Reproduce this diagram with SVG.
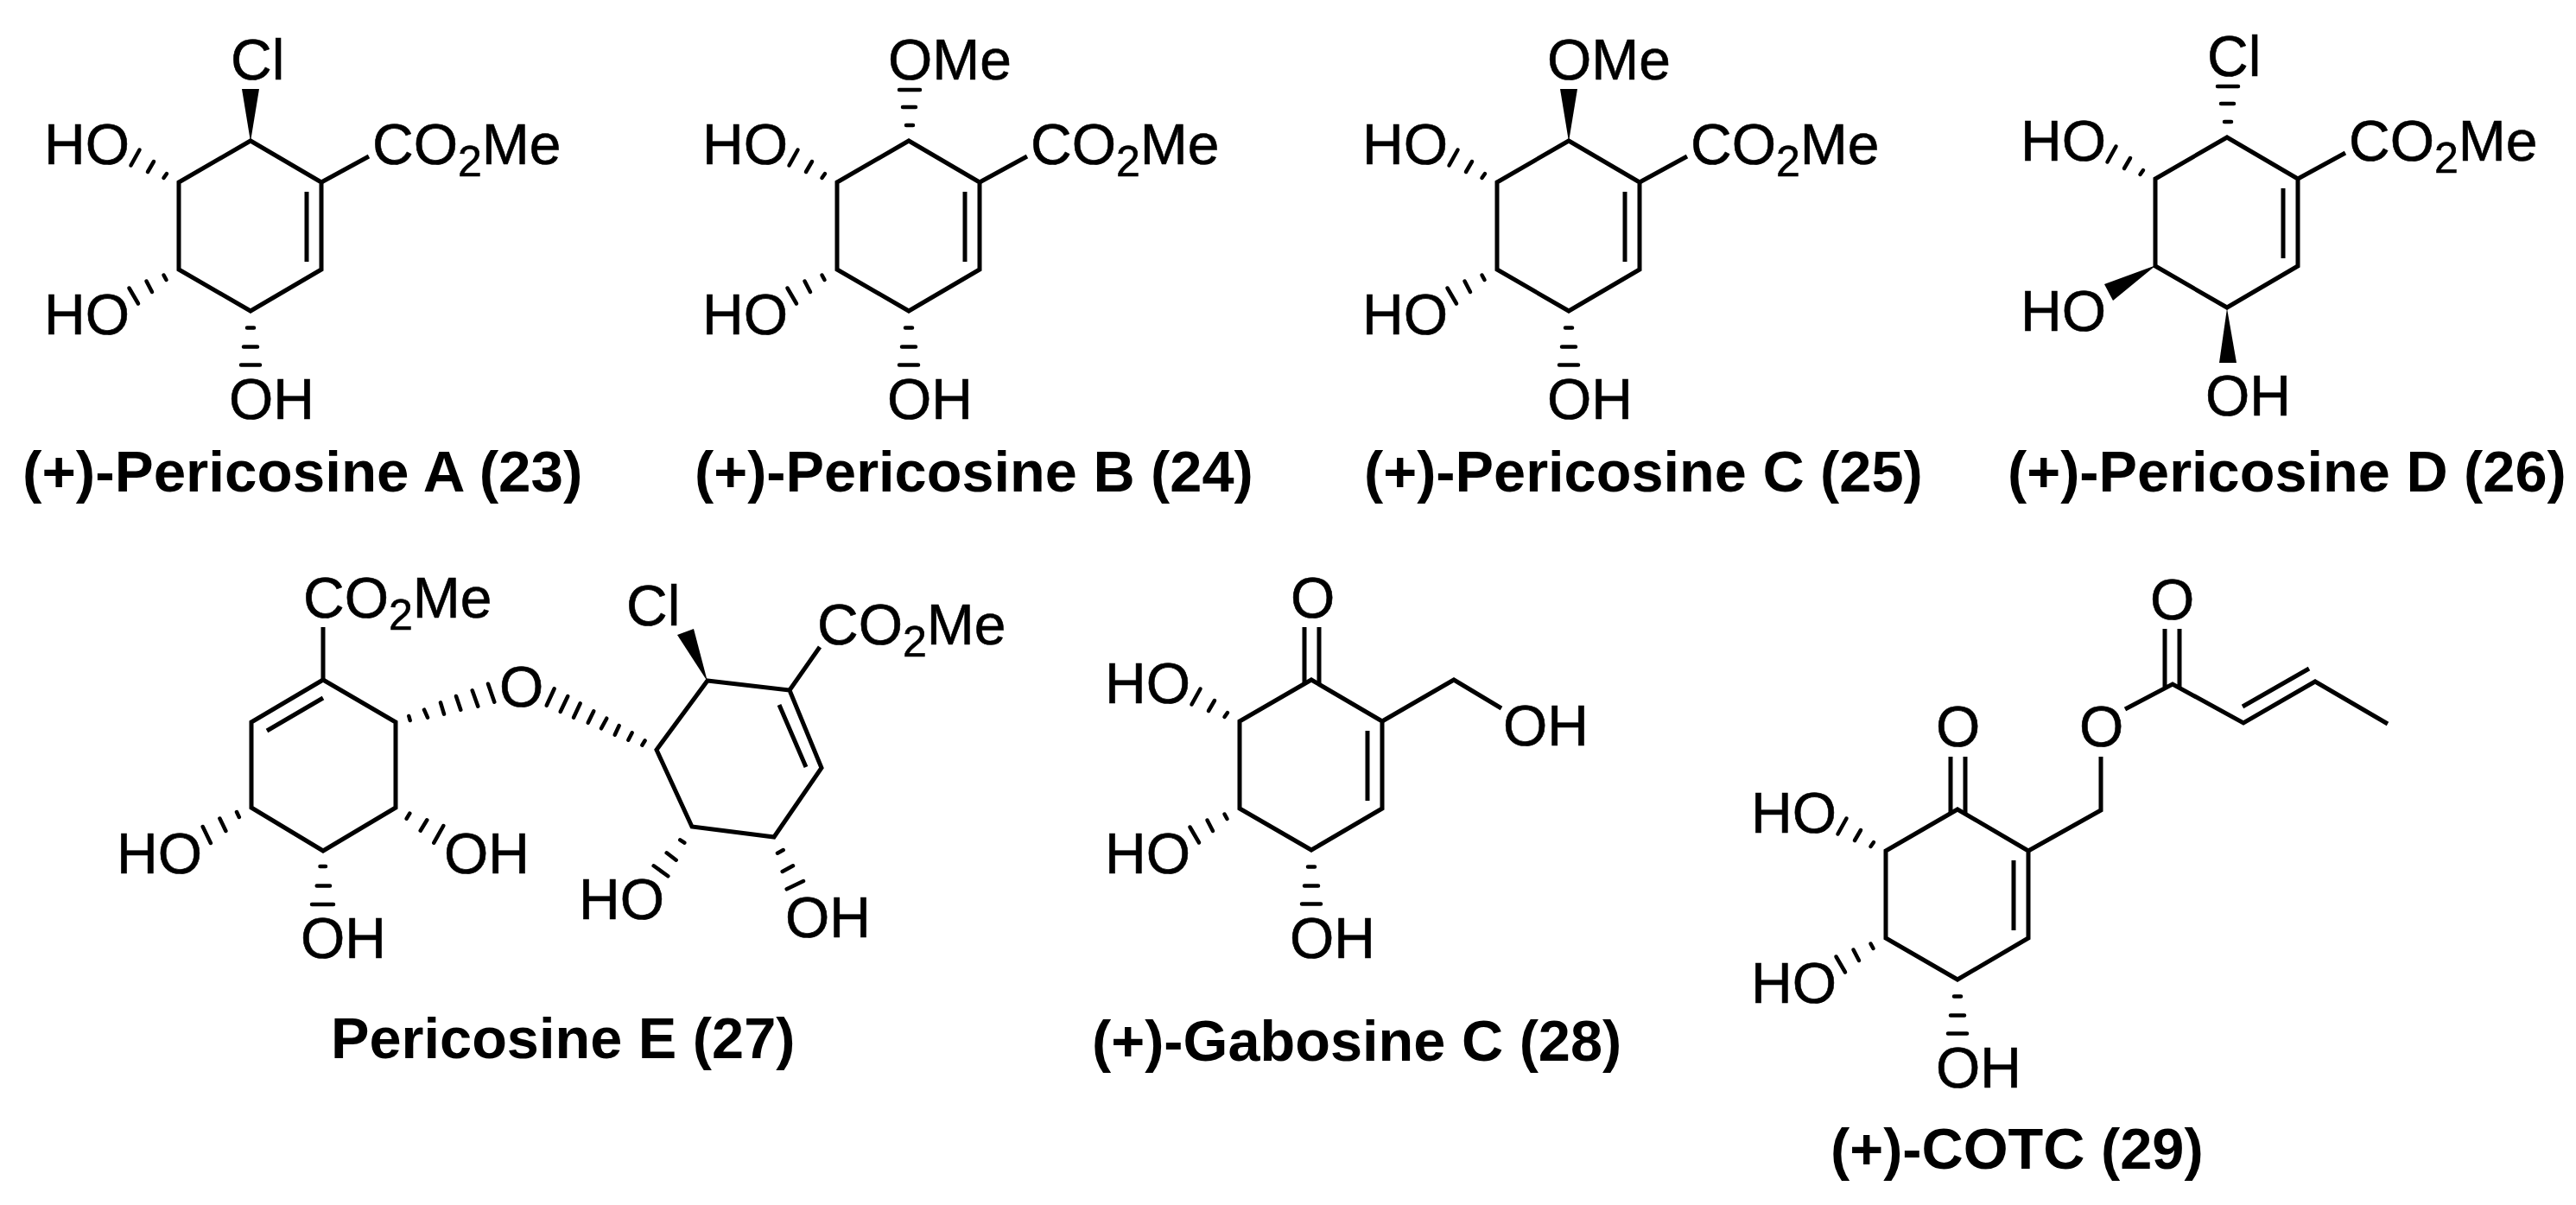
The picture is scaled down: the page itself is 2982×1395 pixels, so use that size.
<svg xmlns="http://www.w3.org/2000/svg" width="2982" height="1395" viewBox="0 0 2982 1395">
<style>
.b{fill:none;stroke:#000;stroke-width:5;stroke-linejoin:miter}
.h{fill:none;stroke:#000;stroke-width:4.5;stroke-linecap:round}
.w{fill:#000;stroke:none}
text{fill:#000;font-family:"Liberation Sans",Arial,sans-serif}
.t{font-size:66px;stroke:#000;stroke-width:.6}
.s{font-size:50px}
.l{font-size:66.7px;font-weight:700}
</style>
<defs>
<g id="core">
<path class="b" d="M290 163L207 211V312L290 360L372 312V211Z"/>
<path class="b" d="M355 222V303"/>
<path class="h" d="M193 201L189.5 206M178 187L171 199M161.500 173.500L151.500 191.500"/>
</g>
<path id="hash-low" class="h" d="M189.500 318.500L192.500 324M169.500 325.500L176 338M149.500 333.500L160 351.500"/>
<path id="hash-bottom" class="h" d="M286 379.500H294M282 401.500H298M279 422.500H301"/>
<path id="hash-top" class="h" d="M287 145H295M283 124H298M279 104H303"/>
<path id="ester-bond" class="b" d="M372 211L427 181"/>
<path id="wedge-top" class="w" d="M290 164L280 103H300Z"/>
</defs>
<rect width="2982" height="1395" fill="#fff"/>

<g id="pericosine-a">
<g id="connectors-a"><use href="#core"/><use href="#ester-bond"/><use href="#hash-low"/><use href="#hash-bottom"/><use href="#wedge-top"/></g>
<text class="t" x="267" y="92">Cl</text>
<text class="t" x="51" y="190">HO</text>
<text class="t" x="431" y="190">CO<tspan class="s" dy="14">2</tspan><tspan dy="-14">Me</tspan></text>
<text class="t" x="51" y="387">HO</text>
<text class="t" x="265" y="485">OH</text>
<text class="l" x="26" y="569" style="font-size:67.4px">(+)-Pericosine A (23)</text>
</g>

<g id="pericosine-b">
<g transform="translate(762 0)">
<g id="connectors-b"><use href="#core"/><use href="#ester-bond"/><use href="#hash-low"/><use href="#hash-bottom"/><use href="#hash-top"/></g>
<text class="t" x="266" y="92">OMe</text>
<text class="t" x="51" y="190">HO</text>
<text class="t" x="431" y="190">CO<tspan class="s" dy="14">2</tspan><tspan dy="-14">Me</tspan></text>
<text class="t" x="51" y="387">HO</text>
<text class="t" x="265" y="485">OH</text>
</g>
<text class="l" x="804" y="569">(+)-Pericosine B (24)</text>
</g>

<g id="pericosine-c">
<g transform="translate(1526 0)">
<g id="connectors-c"><use href="#core"/><use href="#ester-bond"/><use href="#hash-low"/><use href="#hash-bottom"/><use href="#wedge-top"/></g>
<text class="t" x="265" y="92">OMe</text>
<text class="t" x="51" y="190">HO</text>
<text class="t" x="431" y="190">CO<tspan class="s" dy="14">2</tspan><tspan dy="-14">Me</tspan></text>
<text class="t" x="51" y="387">HO</text>
<text class="t" x="265" y="485">OH</text>
</g>
<text class="l" x="1579" y="569">(+)-Pericosine C (25)</text>
</g>

<g id="pericosine-d">
<g transform="translate(2288 -4)">
<g id="connectors-d"><use href="#core"/><use href="#ester-bond"/><use href="#hash-top"/>
<path class="w" d="M208 311L148 333L158 352Z"/><path class="w" d="M290 361L281 424H301Z"/></g>
<text class="t" x="267" y="92">Cl</text>
<text class="t" x="51" y="190">HO</text>
<text class="t" x="431" y="190">CO<tspan class="s" dy="14">2</tspan><tspan dy="-14">Me</tspan></text>
<text class="t" x="51" y="387">HO</text>
<text class="t" x="265" y="485">OH</text>
</g>
<text class="l" x="2324" y="569">(+)-Pericosine D (26)</text>
</g>

<g id="pericosine-e">
<g id="connectors-e">
<path class="b" d="M374 787L291 836V935L374 985L458 935V836Z"/>
<path class="b" d="M309 846L374 808M374 787V726"/>
<path class="h" d="M473.300 829L474.700 834M491 821.700L495 830.700M510 813.300L514 826.700M528 806L533.300 821.700M546.700 799.300L553.300 817.700M565 791.700L572.300 812.700"/>
<path class="h" d="M641.700 797.300L632.700 816.700M657.300 806L648.700 824M671.700 814.300L664 830.700M687.300 823.300L680.700 836.700M702.300 831.700L696 843.300M716.700 840L711.700 850.700M731.700 848.300L727.300 856.700M746.700 857.300L743.300 862.700"/>
<path class="h" d="M274 940L276.800 946M254.400 947.500L261.400 962M234.700 957L243.900 976"/>
<path class="h" d="M474.300 941.700L470.700 947.700M494.300 949.300L486.700 961.700M513.300 956L502.300 975.700"/>
<path class="h" d="M370.500 1003H377M366.700 1025.400H382M361 1047H386"/>
<path class="b" d="M819 788L914 799L951 889L896 969L801 957L760 868Z"/>
<path class="b" d="M902 816L933 888M914 799L949 749"/>
<path class="w" d="M819 789L784 735L803 728Z"/>
<path class="h" d="M787.300 972.300L792.300 975.700M771.700 987.300L782.700 995.700M756.700 1002.300L773.300 1014.300"/>
<path class="h" d="M900 987.700L906.700 984M905.700 1009L918 1002.300M910.700 1029.300L930 1020"/>
</g>
<text class="t" x="351" y="715">CO<tspan class="s" dy="14">2</tspan><tspan dy="-14">Me</tspan></text>
<text class="t" x="578" y="818">O</text>
<text class="t" x="725" y="724">Cl</text>
<text class="t" x="946" y="746">CO<tspan class="s" dy="14">2</tspan><tspan dy="-14">Me</tspan></text>
<text class="t" x="135" y="1011">HO</text>
<text class="t" x="514" y="1011">OH</text>
<text class="t" x="348" y="1109">OH</text>
<text class="t" x="670" y="1064">HO</text>
<text class="t" x="909" y="1085">OH</text>
<text class="l" x="383" y="1225">Pericosine E (27)</text>
</g>

<g id="gabosine-c">
<g transform="translate(1228 624)">
<g id="connectors-g"><use href="#core"/><use href="#hash-low"/><use href="#hash-bottom"/>
<path class="b" d="M282 167V102M299 167V102M372 211L455 163L510 196"/></g>
<text class="t" x="266" y="91">O</text>
<text class="t" x="51" y="190">HO</text>
<text class="t" x="512" y="239">OH</text>
<text class="t" x="51" y="387">HO</text>
<text class="t" x="265" y="485">OH</text>
</g>
<text class="l" x="1264" y="1228">(+)-Gabosine C (28)</text>
</g>

<g id="cotc">
<g transform="translate(1976 774)">
<g id="connectors-h"><use href="#core"/><use href="#hash-low"/><use href="#hash-bottom"/>
<path class="b" d="M282 167V102M299 167V102M372 211L456 164V102M484 47L539 18L621 63L704 15L788 64M530 22V-46M547 22V-46M620 44L697 0"/></g>
<text class="t" x="265" y="90">O</text>
<text class="t" x="431" y="90">O</text>
<text class="t" x="513" y="-57">O</text>
<text class="t" x="51" y="190">HO</text>
<text class="t" x="51" y="387">HO</text>
<text class="t" x="265" y="485">OH</text>
</g>
<text class="l" x="2119" y="1353">(+)-COTC (29)</text>
</g>
</svg>
